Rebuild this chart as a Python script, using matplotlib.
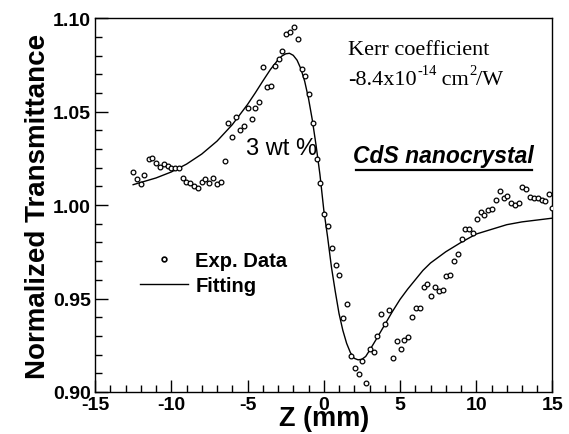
import matplotlib
matplotlib.use("Agg")
import matplotlib.pyplot as plt
from matplotlib.lines import Line2D
from matplotlib.transforms import offset_copy

plt.rcParams['font.family'] = ['Liberation Sans', 'DejaVu Sans']
plt.rcParams['axes.unicode_minus'] = False

exp_z = [-12.53, -12.25, -11.99, -11.77, -11.49, -11.25, -10.99, -10.75, -10.50, -10.24,
         -10.00, -9.76, -9.50, -9.26, -9.02, -8.76, -8.52, -8.26, -8.00, -7.76,
         -7.50, -7.26, -7.00, -6.75, -6.49, -6.25, -5.99, -5.73, -5.49, -5.23,
         -4.99, -4.73, -4.48, -4.22, -3.98, -3.72, -3.48, -3.22, -2.96, -2.72,
         -2.45, -2.22, -1.96, -1.69, -1.45, -1.21, -0.95, -0.71, -0.47, -0.23,
         0.00, 0.27, 0.53, 0.79, 1.03, 1.28, 1.54, 1.77, 2.02, 2.28,
         2.52, 2.78, 3.02, 3.28, 3.52, 3.78, 4.04, 4.29, 4.55, 4.78,
         5.05, 5.29, 5.53, 5.79, 6.05, 6.29, 6.55, 6.79, 7.05, 7.30,
         7.53, 7.80, 8.04, 8.30, 8.54, 8.78, 9.04, 9.28, 9.54, 9.78,
         10.05, 10.28, 10.52, 10.79, 11.03, 11.29, 11.53, 11.79, 12.03, 12.29,
         12.53, 12.79, 13.03, 13.29, 13.53, 13.80, 14.04, 14.30, 14.54, 14.80,
         15.00]
exp_t = [1.0175, 1.0139, 1.0112, 1.0162, 1.0248, 1.0251, 1.0225, 1.0205, 1.0218, 1.0210,
         1.0198, 1.0198, 1.0199, 1.0146, 1.0121, 1.0119, 1.0103, 1.0091, 1.0121, 1.0139,
         1.0118, 1.0143, 1.0114, 1.0121, 1.0234, 1.0440, 1.0362, 1.0472, 1.0403, 1.0424,
         1.0517, 1.0460, 1.0519, 1.0549, 1.0738, 1.0631, 1.0638, 1.0742, 1.0781, 1.0822,
         1.0914, 1.0927, 1.0950, 1.0888, 1.0726, 1.0688, 1.0592, 1.0439, 1.0244, 1.0118,
         0.9952, 0.9889, 0.9770, 0.9681, 0.9627, 0.9396, 0.9469, 0.9191, 0.9130, 0.9095,
         0.9167, 0.9047, 0.9230, 0.9216, 0.9301, 0.9417, 0.9364, 0.9439, 0.9182, 0.9273,
         0.9230, 0.9278, 0.9292, 0.9400, 0.9448, 0.9451, 0.9561, 0.9576, 0.9515, 0.9560,
         0.9542, 0.9545, 0.9619, 0.9624, 0.9700, 0.9736, 0.9818, 0.9870, 0.9872, 0.9852,
         0.9925, 0.9964, 0.9945, 0.9975, 0.9977, 1.0025, 1.0076, 1.0037, 1.0050, 1.0011,
         1.0002, 1.0009, 1.0095, 1.0086, 1.0041, 1.0036, 1.0036, 1.0028, 1.0023, 1.0059,
         0.9984]

# Fitted curve, sampled from the figure
fit_z = [-12.5, -11, -10, -9, -8, -7, -6, -5, -4.5, -4, -3.5, -3, -2.75, -2.5, -2.25,
         -2, -1.75, -1.5, -1.25, -1, -0.75, -0.5, -0.25, 0, 0.25, 0.5, 0.75, 1, 1.25,
         1.5, 1.75, 2, 2.25, 2.5, 2.75, 3, 3.5, 4, 4.5, 5, 5.5, 6, 6.5, 7, 7.5, 8,
         9, 10, 11, 12, 13, 14, 15]
fit_t = [1.0109, 1.0145, 1.0177, 1.0219, 1.0273, 1.0342, 1.0430, 1.0538, 1.0599, 1.0663,
         1.0725, 1.0777, 1.0797, 1.0809, 1.0812, 1.0801, 1.0775, 1.0729, 1.0662, 1.0570,
         1.0455, 1.0317, 1.0163, 0.9975, 0.983, 0.967, 0.954, 0.942, 0.933, 0.926,
         0.921, 0.918, 0.9172, 0.9175, 0.919, 0.9222, 0.929, 0.936, 0.943, 0.9495,
         0.955, 0.960, 0.965, 0.969, 0.972, 0.975, 0.980, 0.9845, 0.987, 0.9895,
         0.991, 0.992, 0.993]

x_ticks = [-15, -10, -5, 0, 5, 10, 15]
y_ticks = [0.90, 0.95, 1.00, 1.05, 1.10]

fig = plt.figure(figsize=(5.69, 4.35), dpi=100)
ax = fig.add_axes([0.167, 0.0966, 0.804, 0.8594])

ax.plot(exp_z, exp_t, 'o', ms=3.4, mfc='white', mec='black', mew=0.9, zorder=3)
ax.plot(fit_z, fit_t, '-', color='black', lw=1.0, zorder=2)

ax.set_xlim(-15, 15)
ax.set_ylim(0.90, 1.10)
ax.set_xticks(x_ticks)
ax.set_xticklabels([str(v) for v in x_ticks])
ax.set_yticks(y_ticks)
ax.set_yticklabels(['%.2f' % v for v in y_ticks])
ax.set_xticks(range(-15, 16), minor=True)
ax.set_yticks([0.90 + 0.01 * i for i in range(21)], minor=True)
ax.tick_params(which='both', direction='in', top=False, right=False, width=1.0)
ax.tick_params(which='major', length=9, labelsize=14, pad=3)
ax.tick_params(which='minor', length=5)
for lab in ax.get_xticklabels() + ax.get_yticklabels():
    lab.set_fontweight('bold')
for sp in ax.spines.values():
    sp.set_linewidth(1.0)

ax.set_xlabel('Z (mm)', fontsize=19.5, fontweight='bold', labelpad=-6)
ax.set_ylabel('Normalized Transmittance', fontsize=20, fontweight='bold', labelpad=1)

ax.text(1.62, 1.0807, 'Kerr coefficient', family='Liberation Serif', fontsize=16, va='baseline')
ax.text(-5.12, 1.0273, '3 wt %', fontsize=17, va='baseline')
cds = ax.text(1.95, 1.023, 'CdS nanocrystal', fontsize=16.5, fontweight='bold',
              style='italic', va='baseline')

handles = [Line2D([], [], ls='none', marker='o', ms=3.4, mfc='white', mec='black', mew=1.2),
           Line2D([], [], color='black', lw=1.0)]
ax.legend(handles, ['Exp. Data', 'Fitting'], loc='upper left', bbox_to_anchor=(0.098, 0.377),
          frameon=False, prop={'weight': 'bold', 'size': 14.5}, handlelength=2.4,
          handletextpad=0.35, labelspacing=0.32, borderpad=0, borderaxespad=0)

# Kerr value with superscripts, built piece by piece (hyphens kept as in the original)
fig.canvas.draw()
renderer = fig.canvas.get_renderer()
pieces = [('-8.4x10', 16, 0), ('-14', 10.5, 7), (' cm', 16, 0), ('2', 10.5, 7), ('/W', 16, 0)]
trans = ax.transData
dx = 0
for txt, size, rise in pieces:
    t = ax.text(1.62, 1.0647, txt, family='Liberation Serif', fontsize=size, va='baseline',
                transform=offset_copy(trans, fig=fig, x=dx, y=rise, units='points'))
    w = t.get_window_extent(renderer).width
    dx += w * 72.0 / fig.dpi

# underline for the sample label
bb = cds.get_window_extent(renderer)
fw, fh = fig.bbox.width, fig.bbox.height
uy = (bb.y0 - 3) / fh
fig.add_artist(Line2D([bb.x0 / fw + 0.004, bb.x1 / fw - 0.004], [uy, uy], color='black', lw=1.6))

fig.savefig('out.png', dpi=100)
